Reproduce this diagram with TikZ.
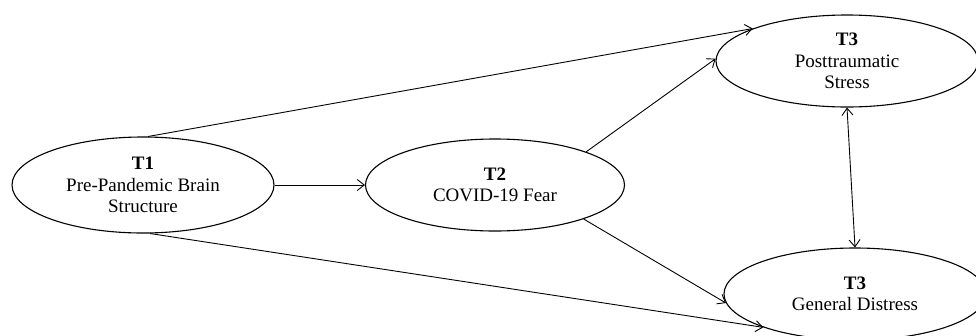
\documentclass[tikz,border=0pt]{standalone}
\usepackage{fontspec}
\setmainfont{Liberation Serif}
\usetikzlibrary{shapes.geometric,arrows.meta}
\begin{document}
\begin{tikzpicture}[x=1pt,y=-1pt,
  latent/.style={ellipse,draw,line width=1.1pt,inner sep=0pt,align=center,
    font=\fontsize{19}{21.5}\selectfont},
  path/.style={line width=0.9pt,-{Straight Barb[length=7pt,width=11pt,line width=0.9pt]}},
  bipath/.style={line width=0.9pt,{Straight Barb[length=7pt,width=11pt,line width=0.9pt]}-{Straight Barb[length=7pt,width=11pt,line width=0.9pt]}}]
\useasboundingbox (0,0) rectangle (976,335);
\node[latent,minimum width=262pt,minimum height=96pt] (t1) at (143,185)
  {\textbf{T1}\\Pre-Pandemic Brain\\Structure};
\node[latent,minimum width=259pt,minimum height=92pt] (t2) at (495,185)
  {\textbf{T2}\\COVID-19 Fear};
\node[latent,minimum width=262pt,minimum height=92pt] (t3a) at (847,61)
  {\textbf{T3}\\Posttraumatic\\Stress};
\node[latent,minimum width=262pt,minimum height=92pt] (t3b) at (855,294)
  {\textbf{T3}\\General Distress};
\draw[path] (t1.east) -- (t2.west);
\draw[path] (t1.84) -- (t3a.161);
\draw[path] (t1.-82) -- (t3b.200);
\draw[path] (t2.20) -- (t3a.179);
\draw[path] (t2.-21) -- (t3b.184);
\draw[bipath] (t3a.south) -- (t3b.north);
\end{tikzpicture}
\end{document}
